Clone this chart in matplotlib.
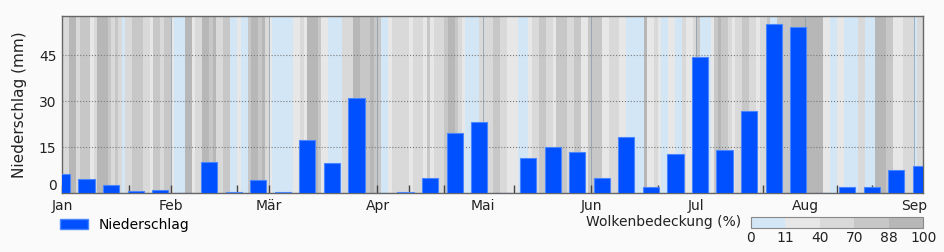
import numpy as np
import matplotlib
matplotlib.use("Agg")
import matplotlib.pyplot as plt
import matplotlib.dates as mdates
from matplotlib.colors import ListedColormap, BoundaryNorm
from matplotlib.patches import Patch

# Niederschlag je Woche (mm), Wochen ab 1. Januar
week_start = np.arange(np.datetime64('2023-01-01'), np.datetime64('2023-09-04'),
                       np.timedelta64(7, 'D'))
precip = [6.3, 4.6, 2.7, 0.7, 0.9, 0.0, 10.2, 0.3, 4.3, 0.4, 17.3, 9.8,
          31.2, 0.0, 0.2, 4.9, 19.5, 23.2, 0.0, 11.4, 14.9, 13.4, 4.9, 18.4,
          1.8, 12.8, 44.6, 14.1, 26.9, 55.3, 54.4, 0.0, 1.8, 1.8, 7.5, 8.9]

# Tägliche Wolkenbedeckung (%)
cloud_jan = [55, 55, 95, 95, 55, 80, 80, 80, 25, 55, 95, 95, 95, 80, 55, 80,
             55, 5, 55, 55, 80, 80, 80, 55, 55, 25, 80, 80, 55, 80, 80]
cloud_feb = [25, 5, 5, 5, 95, 95, 25, 55, 55, 95, 95, 80, 95, 55, 55, 80,
             80, 5, 5, 25, 5, 5, 80, 95, 95, 80, 95, 55]
cloud_mar = [25, 5, 5, 5, 5, 5, 5, 25, 25, 55, 25, 95, 95, 95, 80, 25,
             25, 5, 5, 5, 5, 55, 55, 55, 95, 95, 80, 80, 80, 95, 80]
cloud_apr = [80, 5, 5, 25, 55, 55, 55, 55, 55, 25, 55, 55, 55, 25, 80, 25,
             55, 55, 55, 80, 95, 95, 80, 55, 25, 5, 5, 5, 5, 55]
cloud_mai = [55, 55, 55, 80, 80, 55, 55, 25, 25, 25, 5, 5, 5, 25, 55, 55,
             80, 80, 55, 55, 25, 80, 80, 80, 55, 55, 80, 80, 25, 25, 80]
cloud_jun = [80, 80, 80, 25, 25, 55, 55, 55, 25, 25, 5, 5, 5, 5, 5, 95,
             25, 25, 55, 25, 5, 5, 25, 25, 5, 5, 55, 25, 25, 55]
cloud_jul = [80, 5, 5, 5, 25, 80, 95, 80, 80, 55, 25, 55, 55, 80, 80, 55,
             55, 25, 55, 55, 80, 5, 5, 80, 80, 80, 80, 95, 95, 95, 95]
cloud_aug = [95, 95, 95, 95, 95, 25, 25, 5, 5, 25, 25, 5, 5, 5, 5, 55,
             55, 5, 5, 5, 95, 95, 95, 80, 80, 25, 25, 25, 55, 55, 55]
cloud_sep = [5, 55, 55]

cloud_bounds = [0, 11, 40, 70, 88, 100]
cloud_colors = ['#d2e6f6', '#e7e7e7', '#d9d9d9', '#c7c7c7', '#b7b7b7']
month_names = ['Jan', 'Feb', 'Mär', 'Apr', 'Mai', 'Jun',
               'Jul', 'Aug', 'Sep', 'Okt', 'Nov', 'Dez']

cloud = np.array(cloud_jan + cloud_feb + cloud_mar + cloud_apr + cloud_mai
                 + cloud_jun + cloud_jul + cloud_aug + cloud_sep)
days = np.datetime64('2023-01-01') + np.arange(len(cloud) + 1)

cmap = ListedColormap(cloud_colors)
norm = BoundaryNorm(cloud_bounds, cmap.N)

fig = plt.figure(figsize=(9.45, 2.52), dpi=100, facecolor='#fafafa')
ax = fig.add_axes([62 / 945, 1 - 193 / 252, 861.3 / 945, 177.3 / 252])

mesh = ax.pcolormesh(days, [0, 100], cloud[np.newaxis, :], cmap=cmap, norm=norm,
                     zorder=0)
ax.bar(week_start, precip, width=4.6, color='#0050ff', edgecolor='#4a86ff',
       linewidth=0.8, zorder=3)

ax.set_ylim(0, 58)
ax.set_xlim(mdates.date2num(np.datetime64('2023-01-01')),
            mdates.date2num(np.datetime64('2023-01-01')) + 245.7)

ax.set_yticks([0, 15, 30, 45])
ax.get_yticklabels()[0].set_va('bottom')
ax.grid(axis='y', linestyle=':', color='#7a7a7a', linewidth=0.8)

ax.xaxis.set_major_locator(mdates.MonthLocator())
ax.xaxis.set_minor_locator(mdates.DayLocator(bymonthday=[10, 20]))
ax.xaxis.set_major_formatter(plt.FuncFormatter(
    lambda x, pos: month_names[mdates.num2date(x).month - 1]))
ax.grid(axis='x', which='major', linestyle='-', color='#8497a8', linewidth=0.6,
        alpha=0.8)

ax.tick_params(axis='x', which='both', direction='in', length=6, width=1,
               color='#444', labelsize=10, labelcolor='#222', pad=4)
ax.tick_params(axis='y', length=0, labelsize=10, labelcolor='#222', pad=4)
ax.set_ylabel('Niederschlag (mm)', fontsize=11, color='#222')
ax.yaxis.set_label_coords(-0.041, 0.5)
for s in ax.spines.values():
    s.set_color('#666')
    s.set_linewidth(1)

# Legende und Farbskala unten
fig.legend(handles=[Patch(facecolor='#0050ff', edgecolor='#4a86ff',
                          label='Niederschlag')],
           loc='center left', bbox_to_anchor=(60 / 945, 1 - 225 / 252),
           frameon=False, borderpad=0, borderaxespad=0, fontsize=10)

fig.text(741 / 945, 1 - 222 / 252, 'Wolkenbedeckung (%)', ha='right',
         va='center', fontsize=10, color='#222')
cax = fig.add_axes([750.7 / 945, 1 - 228.3 / 252, 172.6 / 945, 11.6 / 252])
cb = fig.colorbar(mesh, cax=cax, orientation='horizontal', ticks=cloud_bounds)
cb.outline.set_edgecolor('#888')
cax.tick_params(length=0, pad=2, labelsize=10, labelcolor='#222')

fig.savefig('out.png', dpi=100, facecolor=fig.get_facecolor())
